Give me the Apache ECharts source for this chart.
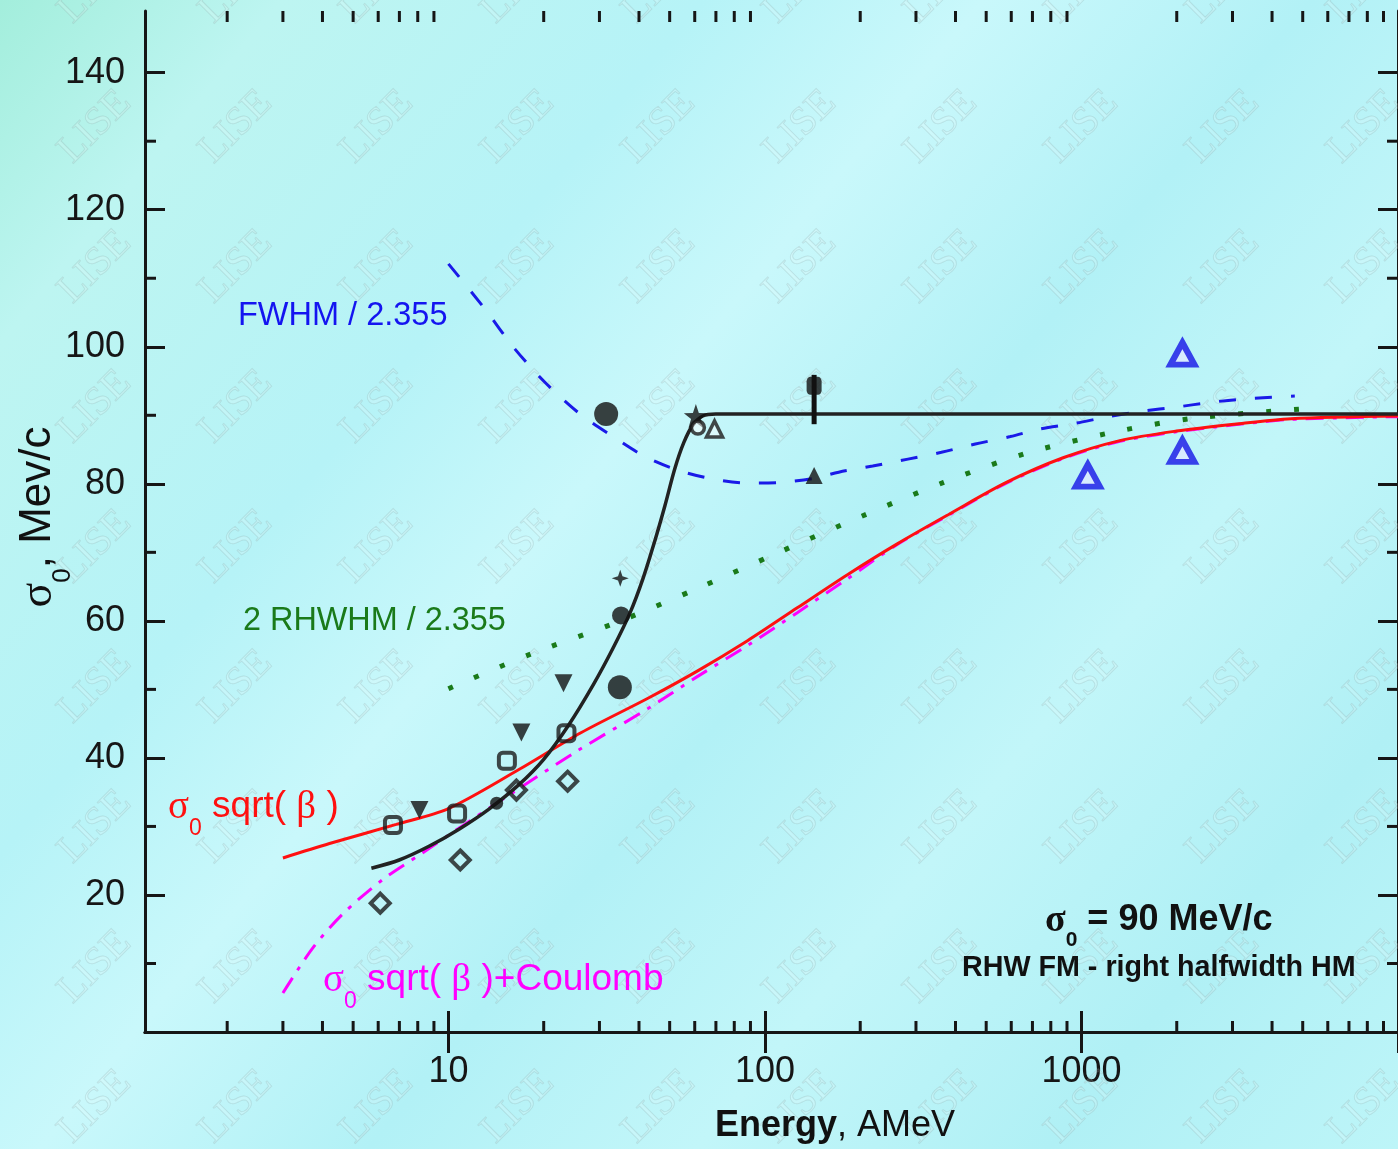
<!DOCTYPE html>
<html><head><meta charset="utf-8">
<script src="https://cdn.jsdelivr.net/npm/echarts@6/dist/echarts.min.js"></script>
<style>html,body{margin:0;padding:0;overflow:hidden;background:#b8f3f6}#c{width:1398px;height:1149px}</style>
</head><body><div id="c"></div>
<script>
// ---------- data ----------
const xMajorTicks = [10, 100, 1000, 10000];
const xTickLabels = ['10', '100', '1000', ''];
const xMinorTicks = [2,3,4,5,6,7,8,9,20,30,40,50,60,70,80,90,200,300,400,500,600,700,800,900,2000,3000,4000,5000,6000,7000,8000,9000];
const yMajorTicks = [0, 20, 40, 60, 80, 100, 120, 140];
const yTickLabels = ['', '20', '40', '60', '80', '100', '120', '140'];
const yMinorTicks = [10,30,50,70,90,110,130];

// black fit curve
const fitE = [5.71, 6.99, 8.68, 10.8, 13.4, 16.7, 20.0, 23.9, 28.7, 33.1, 37.5, 41.2, 44.9, 48.3, 51.9, 55.4, 59.2, 63.6, 69.9, 100, 1000, 10000];
const fitV = [23.9, 25.1, 27.1, 29.6, 32.5, 36.1, 39.8, 44.7, 50.7, 56.0, 61.2, 66.2, 71.7, 76.8, 82.2, 86.0, 88.6, 89.9, 90.2, 90.2, 90.2, 90.2];
// FWHM / 2.355 (blue dashed)
const fwhmE = [10, 13.1, 16.0, 20.1, 25.7, 33.1, 42.1, 53.8, 68.4, 88.1, 112, 143, 171, 219, 283, 361, 462, 596, 740, 946, 1219, 1560, 1995, 2570, 3289, 4267, 4720];
const fwhmV = [112.1, 105.4, 100.0, 94.9, 90.4, 86.9, 83.9, 81.9, 80.7, 80.1, 80.2, 80.8, 81.7, 82.6, 83.6, 84.6, 85.8, 86.9, 88.0, 88.8, 89.8, 90.6, 91.2, 91.9, 92.4, 92.7, 92.8];
// 2 RHWHM / 2.355 (green dotted)
const rhwE = [10, 18.3, 33.7, 61.0, 112, 203, 367, 664, 1219, 2208, 4898];
const rhwV = [50.1, 55.2, 59.7, 64.7, 70.1, 75.3, 80.2, 84.4, 87.4, 89.5, 90.9];
// sigma0 sqrt(beta) (red)
const sqrtE = [3.0, 4.21, 6.84, 10.0, 16.7, 26.3, 42.7, 61.3, 88.1, 126.5, 181.7, 261, 383, 579, 875, 1322, 1995, 3040, 4592, 10000];
const sqrtV = [25.4, 27.5, 30.3, 32.6, 38.3, 43.7, 48.7, 52.7, 57.1, 61.9, 66.7, 71.2, 75.6, 80.2, 83.8, 86.3, 87.7, 88.7, 89.5, 89.9];
// sigma0 sqrt(beta)+Coulomb (magenta dash-dot)
const coulE = [3.0, 3.72, 4.63, 6.18, 8.26, 11.0, 15.8, 25.7, 42.7, 61.3, 88.1, 126.5, 181.7, 261, 383, 579, 875, 1322, 1995, 3040, 4592, 10000];
const coulV = [5.7, 12.2, 17.2, 22.2, 26.1, 30.0, 34.8, 41.1, 47.2, 51.9, 56.4, 61.2, 66.1, 71.1, 75.5, 80.1, 83.7, 86.2, 87.6, 88.6, 89.4, 89.8];

// experimental points
const openDiamondE = [6.09, 10.9, 16.4, 23.8];
const openDiamondV = [18.8, 25.1, 35.3, 36.6];
const openSquareE = [6.68, 10.65, 15.3, 23.6];
const openSquareV = [30.2, 31.9, 39.6, 43.6];
const downTriE = [8.1, 17.0, 23.1];
const downTriV = [32.4, 43.7, 50.9];
const smallDotE = [14.2];
const smallDotV = [33.4];
const bigDotE = [31.5, 34.8, 35.1];
const bigDotV = [90.2, 50.3, 60.8];
const crossE = [34.9];
const crossV = [66.2];
const starE = [60.5];
const starV = [89.9];
const openCircleE = [61.4];
const openCircleV = [88.2];
const openUpTriE = [69.3];
const openUpTriV = [88.0];
const sqMarkE = [143];
const sqMarkV = [94.3];
const errE = [143];
const errLow = [88.7];
const errHigh = [95.9];
const blackTriE = [143];
const blackTriV = [81.2];
const blueTriE = [2084, 2084, 1047];
const blueTriV = [99.0, 84.8, 81.2];

// ---------- chart ----------
const X_MIN = 1.1, X_MAX = 10000, Y_MIN = 0, Y_MAX = 149;
const pts = (xs, ys) => xs.map((x, i) => [x, ys[i]]);
const AX = '#161616';
const SANS = '"Liberation Sans", Arial, sans-serif';
const SERIF = '"Liberation Serif", "DejaVu Serif", serif';

function rich(color, size, bold, subSize) {
  const w = bold ? 'bold' : 'normal';
  return {
    n: {fill: color, color: color, fontSize: size, fontFamily: SANS, fontWeight: w, lineHeight: size + 4, verticalAlign: 'top'},
    b: {fill: color, color: color, fontSize: size, fontFamily: SANS, fontWeight: 'bold', lineHeight: size + 4, verticalAlign: 'top'},
    g: {fill: color, color: color, fontSize: size + 2, fontFamily: SERIF, fontWeight: w, lineHeight: size + 4, verticalAlign: 'top'},
    s: {fill: color, color: color, fontSize: subSize, fontFamily: SANS, fontWeight: w, lineHeight: subSize, padding: [Math.round(size * 0.78), 0, 0, 0], verticalAlign: 'top'}
  };
}
function txt(x, y, text, color, size, bold, opts) {
  opts = opts || {};
  return {
    type: 'text', x: x, y: y, z: 100, rotation: opts.rotation || 0,
    style: {
      text: text, fill: color,
      font: (bold ? 'bold ' : '') + size + 'px ' + SANS,
      rich: rich(color, size, bold, opts.sub || Math.round(size * 0.6)),
      align: opts.align || 'left', textAlign: opts.align || 'left',
      verticalAlign: 'middle', textVerticalAlign: 'middle'
    }
  };
}

// decorative watermark
const wm = [];
for (let i = -1; i < 11; i++) {
  for (let j = -1; j < 9; j++) {
    wm.push({
      type: 'text', x: 95 + 141 * i, y: 127 + 140 * j, rotation: Math.PI / 4, z: 1, silent: true,
      style: {text: 'LISE', font: '40px ' + SERIF, fill: 'rgba(255,255,255,0.14)',
              stroke: 'rgba(125,145,145,0.22)', lineWidth: 1,
              align: 'center', textAlign: 'center', verticalAlign: 'middle', textVerticalAlign: 'middle'}
    });
  }
}

const xBase = {
  type: 'log', logBase: 10, min: X_MIN, max: X_MAX,
  axisLine: {show: true, lineStyle: {color: AX, width: 3}},
  axisTick: {show: true, inside: true, length: 21, customValues: xMajorTicks, lineStyle: {color: AX, width: 3}},
  splitLine: {show: false}, minorTick: {show: false}, minorSplitLine: {show: false}
};
const yBase = {
  type: 'value', min: Y_MIN, max: Y_MAX, interval: 20,
  axisLine: {show: true, onZero: false, lineStyle: {color: AX, width: 3}},
  axisTick: {show: true, inside: true, length: 20, customValues: yMajorTicks, lineStyle: {color: AX, width: 3}},
  splitLine: {show: false}
};

function tickLine(x1, y1, x2, y2) {
  return {type: 'line', shape: {x1, y1, x2, y2}, style: {stroke: AX, lineWidth: 3}};
}

const option = {
  animation: false,
  backgroundColor: {
    type: 'linear', x: 0, y: 0, x2: 1, y2: 1,
    colorStops: [
      {offset: 0, color: '#a3eedc'}, {offset: 0.12, color: '#bdf5f1'},
      {offset: 0.3, color: '#b6f3f7'}, {offset: 0.42, color: '#c9f8fb'},
      {offset: 0.56, color: '#b2f1f6'}, {offset: 0.7, color: '#c2f6f9'},
      {offset: 0.85, color: '#b0f0f5'}, {offset: 1, color: '#bdf5f8'}
    ]
  },
  grid: {left: 145, top: 11, right: -6, bottom: 117, containLabel: false},
  xAxis: [
    Object.assign({}, xBase, {
      position: 'bottom',
      axisLabel: {
        show: true, color: AX, fontSize: 36, fontFamily: SANS, margin: 22,
        customValues: xMajorTicks.slice(0, 3),
        formatter: v => { const k = xMajorTicks.findIndex(t => Math.abs(t - v) / t < 1e-6); return k >= 0 ? xTickLabels[k] : ''; }
      }
    }),
    Object.assign({}, xBase, {position: 'top', axisLabel: {show: false}})
  ],
  yAxis: [
    Object.assign({}, yBase, {
      position: 'left',
      axisLabel: {show: true, color: AX, fontSize: 36, fontFamily: SANS, margin: 20,
        customValues: yMajorTicks.slice(1),
        formatter: v => { const k = yMajorTicks.indexOf(Math.round(v)); return k >= 0 ? yTickLabels[k] : ''; }}
    }),
    Object.assign({}, yBase, {position: 'right', axisLabel: {show: false}})
  ],
  graphic: {elements: wm.concat([
    txt(238, 316, 'FWHM / 2.355', '#1414f0', 32.5, false),
    txt(243, 621, '2 RHWHM / 2.355', '#1a7a1a', 32.4, false),
    txt(168, 809, '{g|σ}{s|0}{n| sqrt( }{g|β}{n| )}', '#ff1010', 37, false, {sub: 23}),
    txt(323, 982, '{g|σ}{s|0}{n| sqrt( }{g|β}{n| )+Coulomb}', '#ff00ff', 37, false, {sub: 23}),
    txt(1045, 922, '{g|σ}{s|0}{n| = 90 MeV/c}', '#111111', 36, true, {sub: 21}),
    txt(962, 968, 'RHW FM - right halfwidth HM', '#111111', 28.7, true),
    txt(715, 1128, '{b|Energy}{n|, AMeV}', '#111111', 36, false),
    txt(40, 517, '{g|σ}{s|0}{n|, Mev/c}', '#111111', 44, false, {sub: 26, rotation: Math.PI / 2, align: 'center'})
  ])},
  series: [
    {
      type: 'custom', name: 'xminor', clip: false, silent: true, z: 1,
      data: xMinorTicks.map(v => [v, Y_MIN]),
      renderItem: (params, api) => {
        const v = api.value(0);
        const b = api.coord([v, Y_MIN]);
        const t = api.coord([v, Y_MAX]);
        return {type: 'group', children: [tickLine(b[0], b[1], b[0], b[1] - 11), tickLine(t[0], t[1], t[0], t[1] + 11)]};
      }
    },
    {
      type: 'custom', name: 'yminor', clip: false, silent: true, z: 1,
      data: yMinorTicks.map(v => [X_MIN, v]),
      renderItem: (params, api) => {
        const v = api.value(1);
        const l = api.coord([X_MIN, v]);
        const r = api.coord([X_MAX, v]);
        return {type: 'group', children: [tickLine(l[0], l[1], l[0] + 11, l[1]), tickLine(r[0], r[1], r[0] - 11, r[1])]};
      }
    },
    {type: 'line', name: 'FWHM', data: pts(fwhmE, fwhmV), showSymbol: false, smooth: 0.3, z: 3,
     lineStyle: {color: '#1a1ae8', width: 3, type: [17, 19]}},
    {type: 'line', name: 'RHWHM', data: pts(rhwE, rhwV), showSymbol: false, smooth: 0.3, z: 3,
     lineStyle: {color: '#1a7a1a', width: 5, type: [5, 23]}},
    {type: 'line', name: 'Coulomb', data: pts(coulE, coulV), showSymbol: false, smooth: 0.3, z: 3,
     lineStyle: {color: '#ff00ff', width: 3, type: [18, 9, 4, 9]}},
    {type: 'line', name: 'sqrt', data: pts(sqrtE, sqrtV), showSymbol: false, smooth: 0.3, z: 4,
     lineStyle: {color: '#ff1010', width: 3}},
    {type: 'line', name: 'fit', data: pts(fitE, fitV), showSymbol: false, smooth: 0.3, z: 4,
     lineStyle: {color: '#222222', width: 3.5}},
    {
      type: 'custom', name: 'errbar', z: 5,
      data: errE.map((e, i) => [e, errLow[i], errHigh[i]]),
      renderItem: (params, api) => {
        const p1 = api.coord([api.value(0), api.value(1)]);
        const p2 = api.coord([api.value(0), api.value(2)]);
        return {type: 'line', shape: {x1: p1[0], y1: p1[1], x2: p2[0], y2: p2[1]}, style: {stroke: '#111', lineWidth: 5}};
      }
    },
    {type: 'scatter', data: pts(openDiamondE, openDiamondV), symbol: 'diamond', symbolSize: 19, z: 6,
     itemStyle: {color: 'rgba(0,0,0,0)', borderColor: '#1a1a1a', borderWidth: 4}},
    {type: 'scatter', data: pts(openSquareE, openSquareV), symbol: 'roundRect', symbolSize: 16, z: 6,
     itemStyle: {color: 'rgba(0,0,0,0)', borderColor: '#1a1a1a', borderWidth: 4}},
    {type: 'scatter', data: pts(downTriE, downTriV), symbol: 'triangle', symbolRotate: 180, symbolSize: 18, z: 6,
     itemStyle: {color: '#111'}},
    {type: 'scatter', data: pts(smallDotE, smallDotV), symbol: 'circle', symbolSize: 13, z: 6,
     itemStyle: {color: '#111'}},
    {type: 'scatter', data: pts(bigDotE, bigDotV), symbol: 'circle', symbolSize: (v, p) => (p.dataIndex === 2 ? 18 : 24), z: 6,
     itemStyle: {color: '#111'}},
    {type: 'scatter', data: pts(crossE, crossV), symbol: 'path://M0,-10 L2.6,-2.6 L10,0 L2.6,2.6 L0,10 L-2.6,2.6 L-10,0 L-2.6,-2.6 Z', symbolSize: 17, z: 6,
     itemStyle: {color: '#111'}},
    {type: 'scatter', data: pts(starE, starV), symbol: 'path://M0,-10 L2.35,-3.24 L9.51,-3.09 L3.8,1.24 L5.88,8.09 L0,4 L-5.88,8.09 L-3.8,1.24 L-9.51,-3.09 L-2.35,-3.24 Z', symbolSize: 24, z: 7,
     itemStyle: {color: '#111'}},
    {type: 'scatter', data: pts(openCircleE, openCircleV), symbol: 'circle', symbolSize: 13, z: 7,
     itemStyle: {color: 'rgba(255,255,255,0.6)', borderColor: '#1a1a1a', borderWidth: 3.5}},
    {type: 'scatter', data: pts(openUpTriE, openUpTriV), symbol: 'triangle', symbolSize: 16, z: 6,
     itemStyle: {color: 'rgba(255,255,255,0.5)', borderColor: '#1a1a1a', borderWidth: 3.5}},
    {type: 'scatter', data: pts(sqMarkE, sqMarkV), symbol: 'roundRect', symbolSize: [15, 18], z: 6,
     itemStyle: {color: '#111'}},
    {type: 'scatter', data: pts(blackTriE, blackTriV), symbol: 'triangle', symbolSize: 17, z: 6,
     itemStyle: {color: '#111'}},
    {type: 'scatter', data: pts(blueTriE, blueTriV), symbol: 'triangle', symbolSize: [24, 22], z: 6,
     itemStyle: {color: '#dfe8ff', borderColor: '#1414e6', borderWidth: 6}}
  ]
};
const chart = echarts.init(document.getElementById('c'), null, {renderer: 'canvas'});
chart.setOption(option);
</script>
</body></html>
